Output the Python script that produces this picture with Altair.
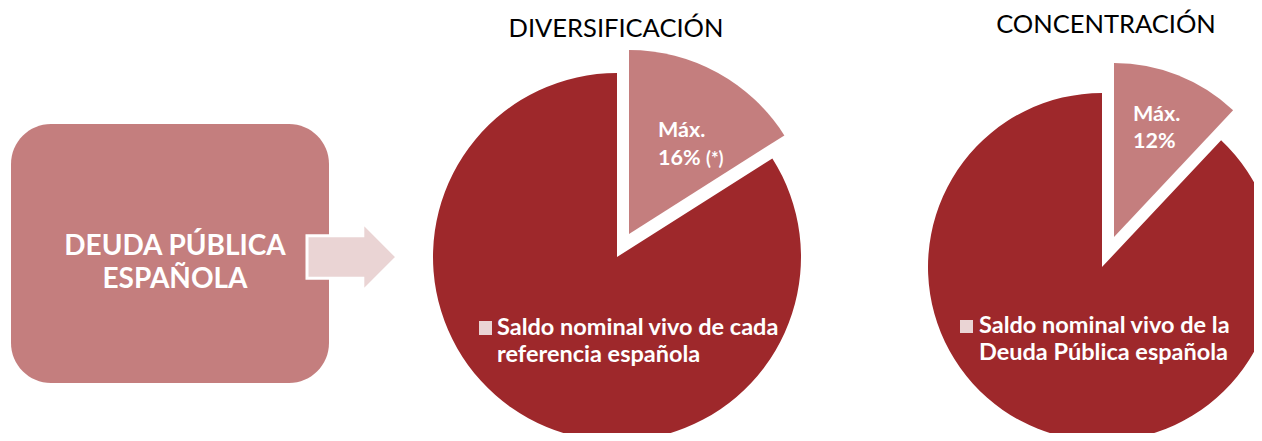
import math
import altair as alt
import pandas as pd

# ---- data ----
pie_titles = ["DIVERSIFICACIÓN", "CONCENTRACIÓN"]
max_share = [16, 12]
slice_labels = [["Máx.", "16%"], ["Máx.", "12%"]]
slice_notes = ["(*)", ""]
legend_labels = [["Saldo nominal vivo de cada", "referencia española"],
                 ["Saldo nominal vivo de la", "Deuda Pública española"]]
box_label = ["DEUDA PÚBLICA", "ESPAÑOLA"]

DARK = "#9E282B"
PINK = "#C47E7E"
LIGHT = "#EAD4D4"
FONT = "Lato"

W, H = 1246, 425


def pie_frame(i):
    m = max_share[i]
    return pd.DataFrame({
        "part": ["max", "rest"],
        "value": [m, 100 - m],
        "start": [0, m],
        "end": [m, 100],
    })


theta_scale = alt.Scale(domain=[0, 100], range=[0, 2 * math.pi])


def pie_layers(i, cx, cy, r, dx, dy):
    df = pie_frame(i)
    base = alt.Chart(df)
    main = base.transform_filter(alt.datum.part == "rest").mark_arc(
        radius=r, color=DARK, stroke=None
    ).encode(
        theta=alt.Theta("start:Q", scale=theta_scale),
        theta2="end:Q",
        x=alt.value(cx), y=alt.value(cy),
    )
    exp = base.transform_filter(alt.datum.part == "max").mark_arc(
        radius=r, color=PINK, stroke=None, xOffset=dx, yOffset=dy
    ).encode(
        theta=alt.Theta("start:Q", scale=theta_scale),
        theta2="end:Q",
        x=alt.value(cx), y=alt.value(cy),
    )
    return [main, exp]


def text_layer(txt, x, y, size, weight="normal", color="white", align="left"):
    return alt.Chart(alt.Data(values=[{"t": txt}])).mark_text(
        font=FONT, fontSize=size, fontWeight=weight, color=color,
        align=align, baseline="alphabetic"
    ).encode(text="t:N", x=alt.value(x), y=alt.value(y))


dummy = alt.Data(values=[{"k": 1}])

box = alt.Chart(dummy).mark_rect(color=PINK, cornerRadius=40).encode(
    x=alt.value(3), x2=alt.value(321), y=alt.value(116), y2=alt.value(375)
)

arrow_path = ("M -1 -0.47 L 0.24 -0.47 L 0.24 -0.76 L 1 0 L 0.24 0.76 "
              "L 0.24 0.47 L -1 0.47 Z")
arrow = alt.Chart(dummy).mark_point(
    shape=arrow_path, filled=True, fill=LIGHT, stroke="white",
    strokeWidth=3, size=8100, opacity=1
).encode(x=alt.value(344), y=alt.value(249))

layers = [box, arrow]
layers += pie_layers(0, 609, 249, 184, 12, -23)
layers += pie_layers(1, 1094, 259, 174, 12, -30)

# titles
layers.append(text_layer(pie_titles[0], 608, 29, 25.5, color="black", align="center"))
layers.append(text_layer(pie_titles[1], 1098, 25, 25.5, color="black", align="center"))

# box text
layers.append(text_layer(box_label[0], 167, 247, 28, "bold", align="center"))
layers.append(text_layer(box_label[1], 167, 280, 28, "bold", align="center"))

# slice labels
layers.append(text_layer(slice_labels[0][0], 650, 129, 21.5, "bold"))
layers.append(text_layer(slice_labels[0][1], 650, 157, 21.5, "bold"))
layers.append(text_layer(slice_notes[0], 698, 157, 18, "bold"))
layers.append(text_layer(slice_labels[1][0], 1125, 113, 21.5, "bold"))
layers.append(text_layer(slice_labels[1][1], 1125, 140, 21.5, "bold"))

# legend squares + text
sq1 = alt.Chart(dummy).mark_rect(color=LIGHT).encode(
    x=alt.value(471), x2=alt.value(484), y=alt.value(313), y2=alt.value(327))
sq2 = alt.Chart(dummy).mark_rect(color=LIGHT).encode(
    x=alt.value(952), x2=alt.value(965), y=alt.value(312), y2=alt.value(325))
layers += [sq1, sq2]
layers.append(text_layer(legend_labels[0][0], 489, 327, 23.5, "bold"))
layers.append(text_layer(legend_labels[0][1], 489, 354, 23.5, "bold"))
layers.append(text_layer(legend_labels[1][0], 971, 325, 23.5, "bold"))
layers.append(text_layer(legend_labels[1][1], 971, 352, 23.5, "bold"))

chart = alt.layer(*layers).properties(
    width=W, height=H, padding=0, autosize=alt.AutoSizeParams(type="none")
).configure_view(stroke=None)

chart.save("out.html", embed_options={"renderer": "svg", "actions": False})
